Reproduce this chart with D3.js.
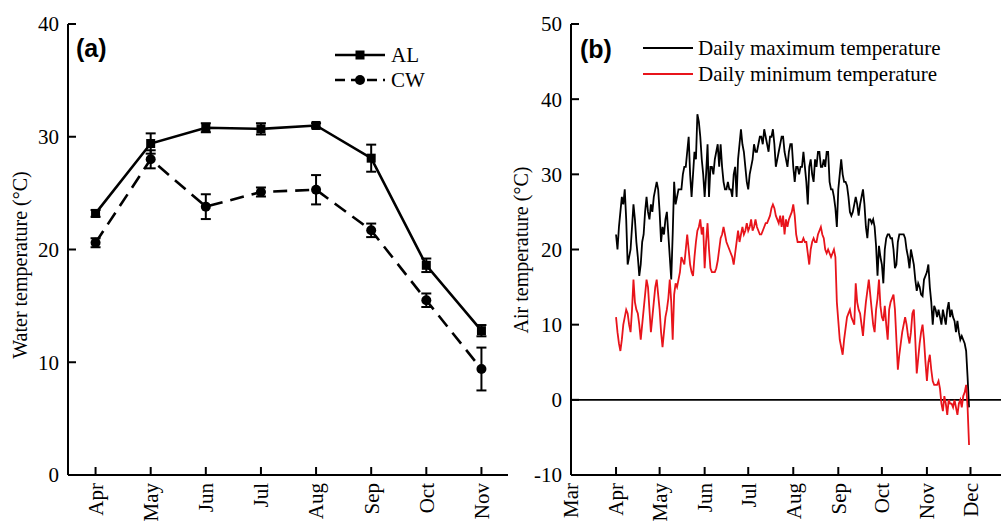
<!DOCTYPE html>
<html>
<head>
<meta charset="utf-8">
<script src="https://cdn.jsdelivr.net/npm/d3@7"></script>
<style>
body { margin: 0; background: #fff; }
svg { display: block; font-family: "Liberation Serif", "Times New Roman", serif; }
</style>
</head>
<body>
<svg id="chart" width="1001" height="521"></svg>
<script>
// panel (a) monthly water temperature
var months = ['Apr', 'May', 'Jun', 'Jul', 'Aug', 'Sep', 'Oct', 'Nov'];
var alMean = [23.2, 29.4, 30.8, 30.7, 31.0, 28.1, 18.6, 12.8];
var alErr = [0.3, 0.9, 0.4, 0.5, 0.2, 1.2, 0.6, 0.5];
var cwMean = [20.6, 28.0, 23.8, 25.1, 25.3, 21.7, 15.5, 9.4];
var cwErr = [0.4, 0.8, 1.1, 0.4, 1.3, 0.6, 0.6, 1.9];
var waterTicks = [0, 10, 20, 30, 40];

// panel (b) daily air temperature, one value per day from 1 Apr
var dailyMax = [
  22, 20, 23, 25, 27, 26, 28, 24, 18, 19,
  20, 23, 26, 24, 21, 19, 16.5, 18, 21, 22,
  25, 27, 25, 24, 26, 25, 27, 28, 29, 28,
  25, 21, 23, 22, 24, 25, 22, 19, 16, 22,
  29, 26, 27, 28, 28, 28, 30, 31, 31, 33,
  35, 30, 27, 30, 33, 32, 38, 37, 35, 32,
  30, 27, 30, 34, 27, 31, 31, 30, 32, 33,
  34, 31, 34, 31, 29, 28, 28, 29, 28, 28,
  27, 30, 31, 27, 32, 34, 36, 34, 33, 31,
  29, 28, 30, 31, 32, 34, 33, 33, 34, 35,
  35, 34, 36, 35, 34, 33, 35, 35, 36, 34,
  31, 32, 33, 34, 35, 35, 33, 32, 31, 33,
  34, 34, 31, 29, 31, 31, 30, 31, 31, 33,
  31, 29, 26, 31, 32, 30, 29, 32, 31, 33,
  33, 31, 31, 32, 31, 33, 33, 29, 28, 28,
  27, 25.5, 23, 28, 30, 32, 30, 29, 29, 28.5,
  27, 25, 24.5, 25, 26, 27, 26, 24.5, 26, 27,
  28, 26, 23, 21.5, 24, 24, 23.5, 24, 23, 20.5,
  16.5, 20.5, 19, 18, 15.5, 20, 21.5, 22, 22, 21.5,
  21.5, 20, 17.5, 18, 21, 22, 22, 22, 22, 21.5,
  20, 19, 17.5, 20, 19, 18, 16, 14.5, 15.5, 15,
  14, 13.8, 16, 16.5, 17, 18, 15, 13, 10, 12.5,
  12, 11, 12, 11, 10, 12, 11, 10, 12, 13,
  11, 12, 11, 10.5, 9, 10.5, 9, 8, 8.5, 8,
  7.5, 6.5, 3, -1
];
var dailyMin = [
  11, 9, 7.5, 6.5, 8, 10, 11, 12, 11.5, 10,
  9, 12, 16, 13, 12, 11.5, 10, 8, 10, 12,
  14, 16, 15, 12, 9, 11, 13, 15, 16, 14,
  12, 9, 7, 9, 11, 12, 13.5, 16, 13, 8,
  14, 15.5, 15, 16, 17, 19, 18.5, 18, 20, 22,
  20, 18, 17, 16.5, 19, 21, 22.5, 23, 24, 22,
  23, 17.5, 21, 23.5, 20, 17.5, 17, 17, 17, 17.5,
  18.5, 20, 21.5, 22, 23, 22, 21, 20.5, 20, 19.5,
  19, 18, 19.5, 21, 22.5, 21, 22, 23, 22, 22.5,
  23.5, 22.5, 23, 24, 22.5, 23, 24, 23, 22.5, 22,
  22, 22.5, 23, 23.5, 23.5, 24, 24.5, 25.5, 26, 25.5,
  24.5, 24, 23.5, 24.5, 23, 24.5, 22, 24, 23, 24,
  24.5, 25, 26, 24.5, 22, 21, 21, 21, 21, 21.5,
  21, 21, 19.5, 18, 20, 21, 21.5, 21, 21, 22,
  22.5, 23, 22, 21.5, 20, 19.5, 20, 19.5, 19, 19.5,
  20, 19, 13, 10.5, 8, 7, 6, 8, 9.5, 11,
  11.5, 12, 11, 10.5, 10, 15.5, 13, 12, 11.5, 10,
  8.5, 11, 13, 14.5, 16, 14, 12, 10, 9, 12,
  13.5, 16, 12.5, 11, 10.5, 12.5, 10, 8, 12, 13,
  13.5, 14, 12, 8, 4, 6, 7.5, 9, 10, 11,
  10, 8.5, 7.5, 9, 11.5, 12, 8, 3.5, 5.5, 7.5,
  9, 10, 8, 5, 2.5, 5, 6, 4, 2.5, 2,
  2, 2, 2.5, 1.5, -0.5, -1.5, 0.5, -0.5, -2, 0,
  -0.5, -0.5, -1, 0, -1, -2, -0.5, 0, -1, 0.5,
  1, 2, -1, -6
];
var airTicks = [-10, 0, 10, 20, 30, 40, 50];
var airMonths = ['Mar', 'Apr', 'May', 'Jun', 'Jul', 'Aug', 'Sep', 'Oct', 'Nov', 'Dec'];

var svg = d3.select('#chart');
var tickLen = 8;

function drawYAxis(g, y, ticks, x0) {
  g.append('line')
    .attr('x1', x0).attr('x2', x0)
    .attr('y1', y.range()[0]).attr('y2', y.range()[1])
    .attr('stroke', '#000').attr('stroke-width', 2);
  var t = g.selectAll('.yt').data(ticks).enter().append('g')
    .attr('transform', function(d) { return 'translate(' + x0 + ',' + y(d) + ')'; });
  t.append('line').attr('x1', 0).attr('x2', tickLen).attr('stroke', '#000').attr('stroke-width', 2);
  t.append('text')
    .attr('x', -9).attr('dy', '0.35em')
    .attr('text-anchor', 'end')
    .style('font-size', '21px')
    .text(function(d) { return d; });
}

function monthLabel(g, x, yTop, txt) {
  g.append('text')
    .attr('transform', 'translate(' + x + ',' + yTop + ') rotate(-90)')
    .attr('text-anchor', 'end')
    .attr('dy', '0.35em')
    .style('font-size', '21px')
    .text(txt);
}

// ---------- panel (a)
var ga = svg.append('g');
var xa = d3.scalePoint().domain(months).range([68, 509]).padding(0.5);
var ya = d3.scaleLinear().domain([0, 40]).range([475, 24]);

drawYAxis(ga, ya, waterTicks, 68);
ga.append('line')
  .attr('x1', 68).attr('x2', 508).attr('y1', 475).attr('y2', 475)
  .attr('stroke', '#000').attr('stroke-width', 2);
months.forEach(function(m) {
  ga.append('line')
    .attr('x1', xa(m)).attr('x2', xa(m)).attr('y1', 475).attr('y2', 475 - tickLen)
    .attr('stroke', '#000').attr('stroke-width', 2);
  monthLabel(ga, xa(m), 483, m);
});

ga.append('text')
  .attr('transform', 'translate(20,' + 265 + ') rotate(-90)')
  .attr('text-anchor', 'middle').attr('dy', '0.35em')
  .style('font-size', '20px')
  .text('Water temperature (°C)');

ga.append('text')
  .attr('x', 76).attr('y', 57)
  .style('font-family', '"Liberation Sans", Arial, sans-serif')
  .style('font-weight', 'bold').style('font-size', '25px')
  .text('(a)');

function series(g, mean, err, dash, marker) {
  var line = d3.line()
    .x(function(d, i) { return xa(months[i]); })
    .y(function(d) { return ya(d); });
  g.append('path')
    .datum(mean)
    .attr('d', line)
    .attr('fill', 'none').attr('stroke', '#000').attr('stroke-width', 2.6)
    .attr('stroke-dasharray', dash);
  var eb = g.selectAll(null).data(mean).enter().append('g')
    .attr('transform', function(d, i) { return 'translate(' + xa(months[i]) + ',0)'; });
  eb.append('line')
    .attr('y1', function(d, i) { return ya(d - err[i]); })
    .attr('y2', function(d, i) { return ya(d + err[i]); })
    .attr('stroke', '#000').attr('stroke-width', 2);
  [-1, 1].forEach(function(s) {
    eb.append('line')
      .attr('x1', -5).attr('x2', 5)
      .attr('y1', function(d, i) { return ya(d + s * err[i]); })
      .attr('y2', function(d, i) { return ya(d + s * err[i]); })
      .attr('stroke', '#000').attr('stroke-width', 2);
  });
  if (marker == 'square') {
    eb.append('rect')
      .attr('x', -4.5).attr('y', function(d) { return ya(d) - 4.5; })
      .attr('width', 9).attr('height', 9).attr('fill', '#000');
  } else {
    eb.append('circle')
      .attr('cy', function(d) { return ya(d); }).attr('r', 5).attr('fill', '#000');
  }
}
series(ga, alMean, alErr, null, 'square');
series(ga, cwMean, cwErr, '14,8', 'circle');

// legend (a)
var legA = [{name: 'AL', dash: null, m: 'square', y: 55}, {name: 'CW', dash: '10,6', m: 'circle', y: 80}];
legA.forEach(function(l) {
  ga.append('line')
    .attr('x1', 335).attr('x2', 385).attr('y1', l.y).attr('y2', l.y)
    .attr('stroke', '#000').attr('stroke-width', 2.6).attr('stroke-dasharray', l.dash);
  if (l.m == 'square') {
    ga.append('rect').attr('x', 355.5).attr('y', l.y - 4.5).attr('width', 9).attr('height', 9);
  } else {
    ga.append('circle').attr('cx', 360).attr('cy', l.y).attr('r', 5);
  }
  ga.append('text').attr('x', 391).attr('y', l.y).attr('dy', '0.35em')
    .style('font-size', '21px').text(l.name);
});

// ---------- panel (b)
var gb = svg.append('g');
var parse = d3.timeParse('%Y-%m-%d');
var start = parse('2017-04-01');
var xb = d3.scaleTime().domain([parse('2017-03-01'), parse('2017-12-22')]).range([571, 1001]);
var yb = d3.scaleLinear().domain([-10, 50]).range([475, 24]);

drawYAxis(gb, yb, airTicks, 571);
gb.append('line')
  .attr('x1', 571).attr('x2', 1001).attr('y1', 475).attr('y2', 475)
  .attr('stroke', '#000').attr('stroke-width', 2);
gb.append('line')
  .attr('x1', 571).attr('x2', 1001).attr('y1', yb(0)).attr('y2', yb(0))
  .attr('stroke', '#000').attr('stroke-width', 1.8);

airMonths.forEach(function(m, i) {
  var x = xb(d3.timeMonth.offset(parse('2017-03-01'), i));
  gb.append('line')
    .attr('x1', x).attr('x2', x).attr('y1', 475).attr('y2', 475 - tickLen)
    .attr('stroke', '#000').attr('stroke-width', 2);
  monthLabel(gb, x, 483, m);
});

gb.append('text')
  .attr('transform', 'translate(521,' + 250 + ') rotate(-90)')
  .attr('text-anchor', 'middle').attr('dy', '0.35em')
  .style('font-size', '20px')
  .text('Air temperature (°C)');

gb.append('text')
  .attr('x', 580).attr('y', 58)
  .style('font-family', '"Liberation Sans", Arial, sans-serif')
  .style('font-weight', 'bold').style('font-size', '25px')
  .text('(b)');

var dayLine = d3.line()
  .x(function(d, i) { return xb(d3.timeDay.offset(start, i)); })
  .y(function(d) { return yb(d); });

gb.append('path').datum(dailyMax).attr('d', dayLine)
  .attr('fill', 'none').attr('stroke', '#000').attr('stroke-width', 1.8);
gb.append('path').datum(dailyMin).attr('d', dayLine)
  .attr('fill', 'none').attr('stroke', '#e8141b').attr('stroke-width', 1.8);

var legB = [{name: 'Daily maximum temperature', c: '#000', y: 48}, {name: 'Daily minimum temperature', c: '#e8141b', y: 74}];
legB.forEach(function(l) {
  gb.append('line')
    .attr('x1', 643).attr('x2', 693).attr('y1', l.y).attr('y2', l.y)
    .attr('stroke', l.c).attr('stroke-width', 1.8);
  gb.append('text').attr('x', 698).attr('y', l.y).attr('dy', '0.35em')
    .style('font-size', '21px').text(l.name);
});
</script>
</body>
</html>
